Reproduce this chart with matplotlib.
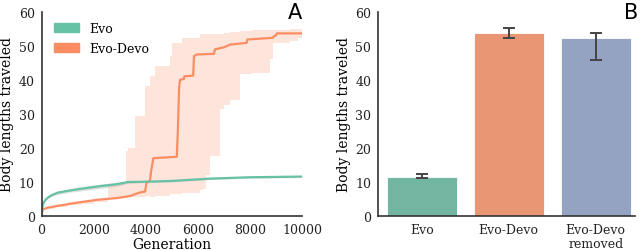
import matplotlib
matplotlib.use("Agg")
import matplotlib.pyplot as plt
from matplotlib.patches import Patch
import numpy as np
import seaborn as sns

# ---------------- data ----------------
evo_gen = [0, 20, 50, 150, 250, 400, 630, 1000, 1400, 2160, 2930, 3320, 4000, 4930, 6470, 7240, 8000, 9000, 10000]
evo_val = [0, 2.0, 3.5, 4.8, 5.5, 6.2, 6.9, 7.4, 7.9, 8.7, 9.4, 10.0, 10.1, 10.3, 11.0, 11.2, 11.4, 11.5, 11.6]
evo_lo = [0, 1.8, 3.2, 4.5, 5.2, 5.8, 6.4, 6.9, 7.3, 8.0, 8.8, 9.6, 9.8, 10.0, 10.7, 10.9, 11.1, 11.2, 11.3]
evo_hi = [0, 2.2, 3.8, 5.1, 5.8, 6.6, 7.3, 7.9, 8.5, 9.3, 10.0, 10.4, 10.4, 10.6, 11.3, 11.5, 11.7, 11.8, 11.9]

dev_gen = [0, 20, 50, 250, 630, 1400, 2150, 2900, 3400, 3750, 3970, 4030, 4160, 4200, 4290, 5190,
           5230, 5280, 5320, 5460, 5480, 5820, 5850, 5950, 6620, 6650, 7000, 7230, 7870, 7900,
           8880, 8920, 9000, 9030, 10000]
dev_val = [0, 1.2, 2.0, 2.5, 3.0, 4.0, 4.8, 5.3, 5.9, 6.9, 7.2, 9.9, 10.3, 13.0, 17.0, 17.4,
           25.0, 38.0, 40.0, 40.2, 41.0, 41.2, 46.9, 47.4, 47.6, 48.9, 49.5, 50.3, 50.8, 51.8,
           52.3, 52.8, 53.0, 53.6, 53.6]

band_gen = [0, 200, 500, 1000, 1500, 2000, 2560, 3000, 3240, 3300, 3600, 3968, 4160, 4353, 4929, 4994,
            5378, 6081, 6209, 6300, 6466, 6850, 7000, 7250, 7626, 8075, 8773, 8898, 9538, 9858, 10000]
band_hi = [0, 3.0, 3.5, 4.0, 4.5, 5.0, 9.4, 9.4, 19.0, 20.0, 29.4, 38.1, 41.1, 44.0, 46.9, 50.8,
           52.3, 53.3, 53.3, 53.3, 53.3, 53.3, 53.6, 54.0, 54.3, 54.7, 54.7, 54.7, 54.8, 54.8, 54.8]
band_lo = [0, 2.0, 2.6, 3.2, 3.7, 4.2, 5.0, 5.2, 5.4, 5.5, 5.7, 5.9, 5.5, 5.8, 6.5, 6.6,
           6.9, 7.7, 7.9, 12.0, 17.6, 31.3, 32.5, 34.0, 41.6, 42.0, 46.0, 50.8, 51.3, 52.3, 52.5]

bar_labels = ["Evo", "Evo-Devo", "Evo-Devo\nremoved"]
bar_vals = [11.6, 53.8, 52.2]
bar_ci_lo = [11.1, 52.3, 45.8]
bar_ci_hi = [12.4, 55.1, 53.8]

# ---------------- style ----------------
green = "#66c2a5"
orange = "#fc8d62"
blue = "#8da0cb"
spine_c = "#333333"
serif = ["DejaVu Serif"]

fig = plt.figure(figsize=(6.4, 2.51), dpi=100)

# ---------------- panel A ----------------
axA = fig.add_axes([0.065, 0.135, 0.407, 0.815])
axA.fill_between(band_gen, band_lo, band_hi, color=orange, alpha=0.22, lw=0, step="post")
axA.fill_between(evo_gen, evo_lo, evo_hi, color="#999999", alpha=0.3, lw=0)
axA.plot(dev_gen, dev_val, color=orange, lw=1.6)
axA.plot(evo_gen, evo_val, color=green, lw=1.6)
axA.set_xlim(0, 10000)
axA.set_ylim(0, 60)
axA.set_xticks([0, 2000, 4000, 6000, 8000, 10000])
axA.set_yticks([0, 10, 20, 30, 40, 50, 60])
axA.set_xlabel("Generation", fontfamily=serif, fontsize=10, labelpad=1)
axA.set_ylabel("Body lengths traveled", fontfamily=serif, fontsize=10, labelpad=3)
leg = axA.legend(handles=[Patch(color=green, label="Evo"), Patch(color=orange, label="Evo-Devo")],
                 loc="upper left", frameon=False, prop={"family": "DejaVu Serif", "size": 9},
                 handlelength=2.0, handleheight=0.75, labelspacing=0.55, handletextpad=0.8,
                 borderaxespad=0.2, bbox_to_anchor=(0.02, 0.985))
fig.text(0.472, 0.925, "A", ha="right", va="baseline", fontsize=15, fontfamily="DejaVu Sans")

# ---------------- panel B ----------------
axB = fig.add_axes([0.591, 0.135, 0.401, 0.815])
xs = np.arange(len(bar_vals))
cols = [sns.desaturate(c, 0.75) for c in (green, orange, blue)]
yerr = [np.array(bar_vals) - np.array(bar_ci_lo), np.array(bar_ci_hi) - np.array(bar_vals)]
axB.bar(xs, bar_vals, width=0.8, color=cols, edgecolor="white", linewidth=0.6)
axB.errorbar(xs, bar_vals, yerr=yerr, fmt="none", ecolor="#444444", elinewidth=1.4,
             capsize=4.5, capthick=1.4)
axB.set_xlim(-0.5, 2.45)
axB.set_ylim(0, 60)
axB.set_yticks([0, 10, 20, 30, 40, 50, 60])
axB.set_xticks(xs)
axB.set_xticklabels(bar_labels, linespacing=1.05)
axB.set_ylabel("Body lengths traveled", fontfamily=serif, fontsize=10, labelpad=3)
fig.text(0.998, 0.925, "B", ha="right", va="baseline", fontsize=15, fontfamily="DejaVu Sans")

for ax in (axA, axB):
    for s in ("top", "right"):
        ax.spines[s].set_visible(False)
    for s in ("left", "bottom"):
        ax.spines[s].set_color(spine_c)
        ax.spines[s].set_linewidth(1.2)
    ax.tick_params(length=0, pad=5, labelsize=9, colors="#222222")
    for lab in ax.get_xticklabels() + ax.get_yticklabels():
        lab.set_fontfamily(serif)

fig.savefig("out.png", dpi=100)
